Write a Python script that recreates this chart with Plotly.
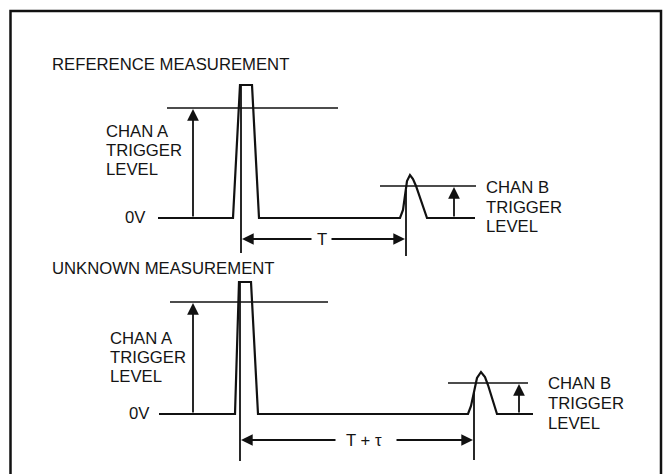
import plotly.graph_objects as go

# ---- waveform vertices (pixel-space diagram coordinates) ----
ref_wave_x = [158, 233, 240, 252, 259, 400, 403, 405, 407, 410, 413, 416, 427, 475]
ref_wave_y = [218, 218, 85, 85, 218, 218, 210, 195, 181, 175, 179, 186, 218, 218]
unk_wave_x = [159, 235, 239, 251, 258, 468, 471, 474, 477, 481, 485, 488, 497, 533]
unk_wave_y = [414, 414, 282, 282, 414, 414, 406, 392, 378, 372, 377, 385, 414, 414]

# trigger level lines: (x0, x1, y)
trig_lines = [(167, 338, 108), (380, 476, 186), (170, 328, 302), (448, 528, 383)]
# vertical timing markers: (x, y0, y1)
markers = [(241, 85, 253), (406, 190, 256), (240, 282, 461), (474, 392, 460)]
# arrows: (tip_x, tip_y, tail_x, tail_y)
arrows = [(193, 109, 193, 218), (454, 187, 454, 218),
          (242, 239, 313, 239), (405, 239, 330, 239),
          (193, 303, 193, 414), (519, 384, 519, 414),
          (241, 440, 337, 440), (473, 440, 395, 440)]
# text labels: (x, y, text, anchor)
labels = [
    (50, 64, "REFERENCE MEASUREMENT", "left"),
    (104, 131, "CHAN A", "left"), (104, 150, "TRIGGER", "left"), (104, 169, "LEVEL", "left"),
    (148, 217, "0V", "right"),
    (322, 239, "T", "center"),
    (484, 187, "CHAN B", "left"), (484, 207, "TRIGGER", "left"), (484, 226, "LEVEL", "left"),
    (50, 268, "UNKNOWN MEASUREMENT", "left"),
    (108, 338, "CHAN A", "left"), (108, 357, "TRIGGER", "left"), (108, 376, "LEVEL", "left"),
    (152, 413, "0V", "right"),
    (364, 440, "T + τ", "center"),
    (546, 383, "CHAN B", "left"), (546, 403, "TRIGGER", "left"), (546, 423, "LEVEL", "left"),
]

INK = "#111111"
fig = go.Figure()

for wx, wy in [(ref_wave_x, ref_wave_y), (unk_wave_x, unk_wave_y)]:
    fig.add_trace(go.Scatter(x=wx, y=wy, mode="lines",
                             line=dict(color=INK, width=2.2), hoverinfo="skip"))
for x0, x1, y in trig_lines:
    fig.add_trace(go.Scatter(x=[x0, x1], y=[y, y], mode="lines",
                             line=dict(color=INK, width=1.6), hoverinfo="skip"))
for x, y0, y1 in markers:
    fig.add_trace(go.Scatter(x=[x, x], y=[y0, y1], mode="lines",
                             line=dict(color=INK, width=1.8), hoverinfo="skip"))

for tx, ty, sx, sy in arrows:
    fig.add_annotation(x=tx, y=ty, ax=sx, ay=sy, xref="x", yref="y",
                       axref="x", ayref="y", text="", showarrow=True,
                       arrowhead=2, arrowsize=1.3, arrowwidth=1.8,
                       arrowcolor=INK, standoff=0, startstandoff=0)

for x, y, t, anc in labels:
    fig.add_annotation(x=x, y=y, xref="x", yref="y", text=t, showarrow=False,
                       xanchor=anc, yanchor="middle",
                       bgcolor="white" if t in ("T", "T + τ") else None,
                       font=dict(family="Liberation Sans, Arial, sans-serif",
                                 size=16.7, color="#141414"))

# outer frame (bottom edge runs off the page)
fig.add_shape(type="rect", x0=10.5, y0=11, x1=661, y1=490, xref="x", yref="y",
              line=dict(color=INK, width=2.5))

fig.update_layout(
    width=665, height=474, margin=dict(l=0, r=0, t=0, b=0),
    paper_bgcolor="white", plot_bgcolor="white", showlegend=False,
    xaxis=dict(range=[0, 665], visible=False, fixedrange=True),
    yaxis=dict(range=[474, 0], visible=False, fixedrange=True),
)
fig.write_html("out.html", config={"displayModeBar": False, "staticPlot": True},
               post_script="document.body.style.margin='0';document.body.style.overflow='hidden';")
